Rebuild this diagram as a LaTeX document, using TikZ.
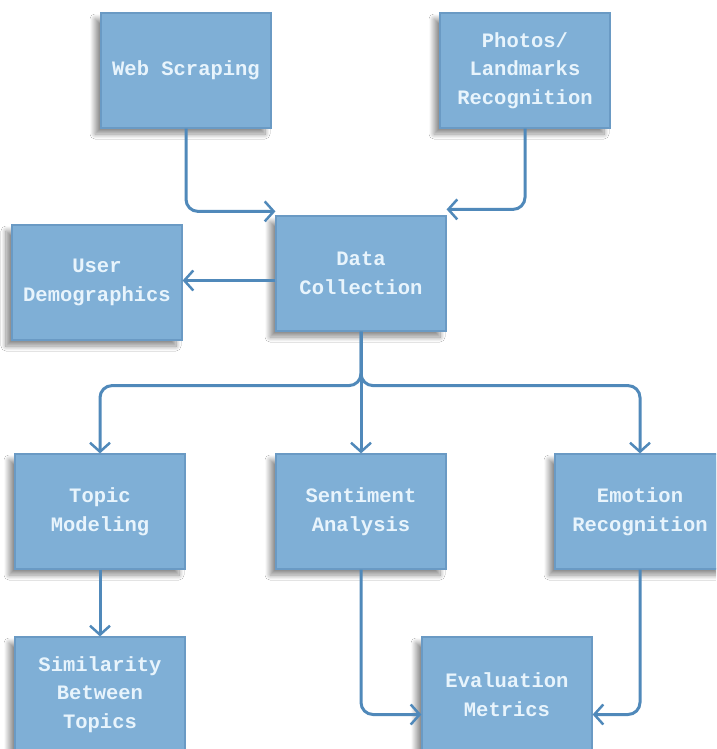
\documentclass[tikz,border=0pt]{standalone}
\usepackage{fontspec}
\newfontfamily\boxfont{Liberation Mono}
\usetikzlibrary{arrows.meta,shadows.blur}
\definecolor{boxfill}{HTML}{7FAFD6}
\definecolor{boxline}{HTML}{6A9AC4}
\definecolor{boxtext}{HTML}{E8F4FC}
\definecolor{connc}{HTML}{5089BA}
\tikzset{
  stepbox/.style={draw=boxline, line width=1.2pt, fill=boxfill, minimum width=170pt, minimum height=115pt,
    inner sep=0pt, align=center, text=boxtext,
    font=\boxfont\bfseries\fontsize{20.5}{28.5}\selectfont,
    blur shadow={shadow xshift=-6pt, shadow yshift=-6pt, shadow blur radius=5pt, shadow blur steps=10, shadow opacity=45}},
  conn/.style={draw=connc, line width=3pt, rounded corners=12pt, -{Straight Barb[length=9pt,width=20pt,line width=2.5pt]}}
}
\begin{document}
\begin{tikzpicture}[x=1pt,y=-1pt]
\clip (0,0) rectangle (716,749);
\fill[white] (0,0) rectangle (716,749);
\node[stepbox] (web) at (186,70.5) {Web Scraping};
\node[stepbox] (photos) at (525,70.5) {Photos/\\Landmarks\\Recognition};
\node[stepbox] (data) at (361,273.5) {Data\\Collection};
\node[stepbox] (user) at (97,282.5) {User\\Demographics};
\node[stepbox] (topic) at (100,511.5) {Topic\\Modeling};
\node[stepbox] (sent) at (361,511.5) {Sentiment\\Analysis};
\node[stepbox] (emo) at (640,511.5) {Emotion\\Recognition};
\node[stepbox] (sim) at (100,694.5) {Similarity\\Between\\Topics};
\node[stepbox] (eval) at (507,694.5) {Evaluation\\Metrics};

\draw[conn] (web.south) |- ([yshift=4pt]data.north west);
\draw[conn] (photos.south) |- ([yshift=6pt]data.north east);
\draw[conn] ([yshift=-7pt]data.west) -- ([yshift=-7pt]data.west -| user.east);
\coordinate (b) at ([yshift=-54pt]data.south);
\draw[conn] (data.south) -- (b) -| (topic.north);
\draw[conn] (data.south) -- (b) -| (emo.north);
\draw[conn] (data.south) -- (sent.north);
\draw[conn] (topic.south) -- (sim.north);
\draw[conn] (sent.south) |- ([yshift=-20pt]eval.west);
\draw[conn] (emo.south) |- ([yshift=-20pt]eval.east);
\end{tikzpicture}
\end{document}
